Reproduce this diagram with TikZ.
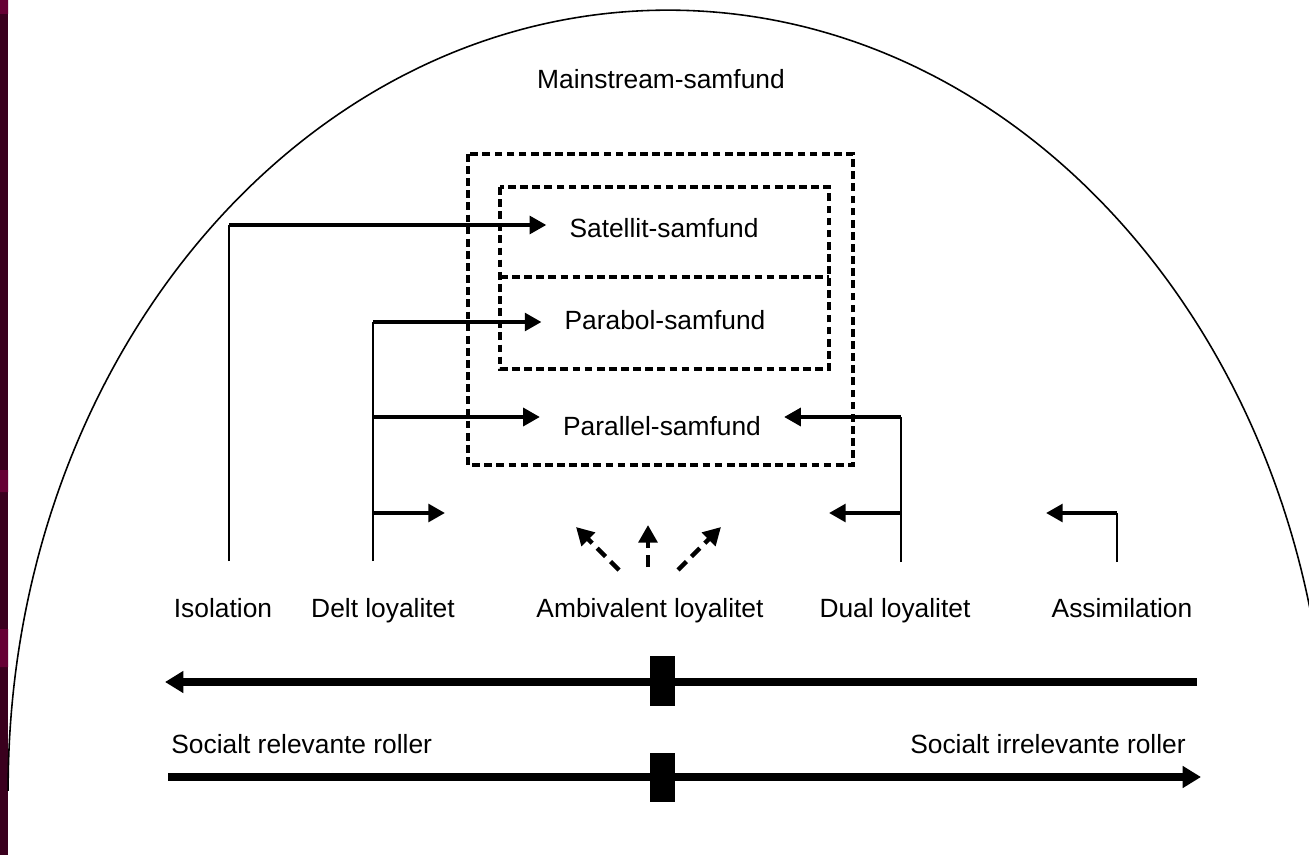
\documentclass[tikz,border=0pt]{standalone}
\usepackage{fontspec}
\setmainfont{Liberation Sans}
\usetikzlibrary{arrows.meta}
\definecolor{stripdark}{RGB}{58,0,30}
\definecolor{stripband}{RGB}{102,0,52}
\begin{document}
\begin{tikzpicture}[x=0.02cm,y=-0.02cm,
  font=\fontsize{15}{18}\selectfont,
  stemline/.style={line width=0.9pt},
  feedarrow/.style={line width=2.3pt,-{Triangle[length=9.5pt,width=10pt]}},
  hintarrow/.style={line width=2.6pt,dash pattern=on 6.8pt off 4pt,-{Triangle[length=10pt,width=10.5pt]}},
  rolearrow/.style={line width=4pt,-{Triangle[length=10.5pt,width=12pt]}},
  framebox/.style={line width=2.1pt,dash pattern=on 4.4pt off 2.5pt},
  marker/.style={fill=black,inner sep=0pt,minimum width=14.2pt,minimum height=28.3pt},
  lab/.style={anchor=base,inner xsep=13pt}]
\fill[white] (0,0) rectangle (1309,855);
\useasboundingbox (0,0) rectangle (1309,855);
% side strip
\fill[stripdark] (0,0) rectangle (8,855);
\fill[stripband] (0,0) rectangle (8,14) (0,470) rectangle (8,492) (0,629) rectangle (8,667);
\scope % mainstream outline
\clip (0,0) rectangle (1309,790);
\draw[stemline] (668,790) ellipse [x radius=13.2cm, y radius=15.6cm];
\endscope
\node[anchor=base] (main) at (661,89) {Mainstream-samfund};
% dashed frames
\draw[framebox] (468,154) rectangle (853,465);
\draw[framebox] (500,187) rectangle (829,369);
\draw[framebox] (500,277) -- (829,277);
\node[lab] (sat) at (664,237) {Satellit-samfund};
\node[lab] (para) at (665,329) {Parabol-samfund};
\node[lab] (paral) at (662,435) {Parallel-samfund};
% loyalties
\node[anchor=base] (iso) at (223,617) {Isolation};
\node[anchor=base] (delt) at (383,617) {Delt loyalitet};
\node[anchor=base] (amb) at (650,617) {Ambivalent loyalitet};
\node[anchor=base] (dual) at (895,617) {Dual loyalitet};
\node[anchor=base] (assim) at (1122,617) {Assimilation};
\coordinate (isoB) at (229,561);
\coordinate (isoT) at (229,225);
\draw[stemline] (isoB) -- (isoT);
\draw[feedarrow] (isoT) -- (isoT -| sat.west);
\coordinate (deltB) at (373,561);
\coordinate (deltT) at (373,322);
\coordinate (deltM) at (373,417);
\coordinate (deltL) at (373,513);
\coordinate (deltE) at (445,513);
\draw[stemline] (deltB) -- (deltT);
\draw[feedarrow] (deltT) -- (deltT -| para.west);
\draw[feedarrow] (deltM) -- (deltM -| paral.west);
\draw[feedarrow] (deltL) -- (deltE);
\coordinate (dualB) at (901,562);
\coordinate (dualT) at (901,417);
\coordinate (dualL) at (901,513);
\coordinate (dualE) at (829,513);
\draw[stemline] (dualB) -- (dualT);
\draw[feedarrow] (dualT) -- (dualT -| paral.east);
\draw[feedarrow] (dualL) -- (dualE);
\coordinate (assB) at (1117,562);
\coordinate (assT) at (1117,513);
\coordinate (assE) at (1046,513);
\draw[stemline] (assB) -- (assT);
\draw[feedarrow] (assT) -- (assE);
\coordinate (ambL) at (619,570);
\coordinate (ambLE) at (576,527);
\coordinate (ambC) at (648,567);
\coordinate (ambCE) at (648,525);
\coordinate (ambR) at (678,570);
\coordinate (ambRE) at (721,527);
\draw[hintarrow] (ambL) -- (ambLE);
\draw[hintarrow] (ambC) -- (ambCE);
\draw[hintarrow] (ambR) -- (ambRE);
% roles
\coordinate (topL) at (165,682);
\coordinate (topR) at (1197,682);
\draw[rolearrow] (topR) -- (topL);
\node[marker] (topM) at (662.5,681) {};
\node[anchor=base west,inner sep=0pt] (rel) at (171,753) {Socialt relevante roller};
\node[anchor=base east,inner sep=0pt] (irr) at (1186,753) {Socialt irrelevante roller};
\coordinate (botL) at (168,777);
\coordinate (botR) at (1201,777);
\draw[rolearrow] (botL) -- (botR);
\node[marker] (botM) at (662.5,777.5) {};
\end{tikzpicture}
\end{document}
